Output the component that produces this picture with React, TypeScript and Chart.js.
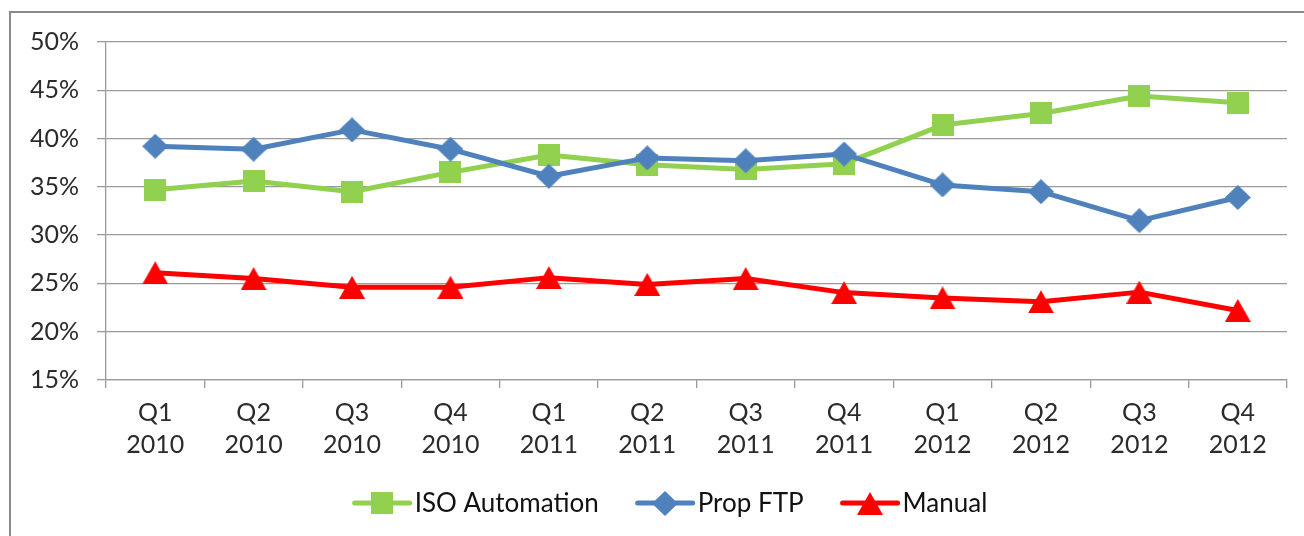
import React, { useEffect, useRef } from "react";
import { Chart, registerables } from "chart.js";

Chart.register(...registerables);

const quarters = ["Q1", "Q2", "Q3", "Q4", "Q1", "Q2", "Q3", "Q4", "Q1", "Q2", "Q3", "Q4"];
const years = ["2010", "2010", "2010", "2010", "2011", "2011", "2011", "2011", "2012", "2012", "2012", "2012"];

const isoAutomation = [34.7, 35.6, 34.5, 36.5, 38.3, 37.3, 36.8, 37.4, 41.4, 42.6, 44.4, 43.7];
const propFtp = [39.2, 38.9, 40.9, 38.9, 36.1, 38.0, 37.7, 38.4, 35.2, 34.5, 31.5, 33.9];
const manual = [26.1, 25.5, 24.6, 24.6, 25.6, 24.9, 25.5, 24.05, 23.5, 23.1, 24.1, 22.2];

const seriesNames = ["ISO Automation", "Prop FTP", "Manual"];
const seriesColors = ["#92D050", "#4F81BD", "#FF0000"];
const seriesShapes = ["square", "diamond", "triangle"];

const yMin = 15;
const yMax = 50;
const yStep = 5;

const W = 1304;
const H = 536;
const FONT = "Lato, 'Open Sans', sans-serif";

function makeMarker(shape: string, color: string): HTMLCanvasElement {
  const c = document.createElement("canvas");
  let w = 22, h = 22;
  if (shape === "diamond") { w = 26; h = 25; }
  if (shape === "triangle") { w = 26; h = 23; }
  c.width = w;
  c.height = h;
  const g = c.getContext("2d")!;
  g.fillStyle = color;
  g.beginPath();
  if (shape === "square") {
    g.rect(0, 0, w, h);
  } else if (shape === "diamond") {
    g.moveTo(w / 2, 0);
    g.lineTo(w, h / 2);
    g.lineTo(w / 2, h);
    g.lineTo(0, h / 2);
    g.closePath();
  } else {
    g.moveTo(w / 2, 0);
    g.lineTo(w, h);
    g.lineTo(0, h);
    g.closePath();
  }
  g.fill();
  return c;
}

export default function App() {
  const ref = useRef<HTMLCanvasElement | null>(null);

  useEffect(() => {
    if (!ref.current) return;
    const markers = seriesShapes.map((s, i) => makeMarker(s, seriesColors[i]));
    const values = [isoAutomation, propFtp, manual];

    const legendPlugin = {
      id: "excelLegend",
      afterDraw(chart: any) {
        const ctx = chart.ctx as CanvasRenderingContext2D;
        ctx.save();
        ctx.font = `26px ${FONT}`;
        const sampleW = 59;
        const gap = 3;
        const spacing = 37;
        const widths = seriesNames.map((n) => sampleW + gap + ctx.measureText(n).width);
        const total = widths.reduce((a, b) => a + b, 0) + spacing * (seriesNames.length - 1);
        let x = 670 - total / 2;
        const y = 503;
        seriesNames.forEach((name, i) => {
          ctx.strokeStyle = seriesColors[i];
          ctx.lineWidth = 5;
          ctx.lineCap = "round";
          ctx.beginPath();
          ctx.moveTo(x + 2, y);
          ctx.lineTo(x + sampleW - 2, y);
          ctx.stroke();
          const m = markers[i];
          ctx.drawImage(m, Math.round(x + sampleW / 2 - m.width / 2), Math.round(y - m.height / 2));
          ctx.fillStyle = "#111";
          ctx.textBaseline = "middle";
          ctx.textAlign = "left";
          ctx.fillText(name, x + sampleW + gap, y + 1);
          x += widths[i] + spacing;
        });
        ctx.restore();
      },
    };

    const chart = new Chart(ref.current, {
      type: "line",
      data: {
        labels: quarters.map((q, i) => [q, years[i]]),
        datasets: seriesNames.map((name, i) => ({
          label: name,
          data: values[i],
          borderColor: seriesColors[i],
          backgroundColor: seriesColors[i],
          borderWidth: 5,
          borderJoinStyle: "round" as const,
          borderCapStyle: "round" as const,
          tension: 0,
          pointStyle: markers[i] as any,
          pointRadius: 12,
          order: seriesNames.length - i,
        })),
      },
      options: {
        responsive: false,
        animation: false,
        devicePixelRatio: 1,
        events: [],
        layout: { padding: { top: 42, right: 17, left: 0, bottom: 0 } },
        plugins: {
          legend: { display: false },
          tooltip: { enabled: false },
        },
        scales: {
          x: {
            type: "category",
            offset: true,
            grid: {
              offset: true,
              drawOnChartArea: false,
              drawTicks: true,
              tickLength: 8,
              color: "#9a9a9a",
              lineWidth: 1.3,
            },
            border: { display: true, color: "#9a9a9a", width: 1.3 },
            ticks: {
              padding: 9,
              color: "#2b2b2b",
              font: { family: FONT, size: 25, lineHeight: 1.28 },
              maxRotation: 0,
              autoSkip: false,
            },
            afterFit: (s: any) => {
              s.height = H - 380;
              s.paddingLeft = 0;
              s.paddingRight = 0;
            },
          },
          y: {
            min: yMin,
            max: yMax,
            ticks: {
              stepSize: yStep,
              padding: 18,
              color: "#2b2b2b",
              font: { family: FONT, size: 25 },
              callback: (v: any) => `${v}%`,
            },
            grid: {
              color: "#9a9a9a",
              lineWidth: 1.3,
              tickLength: 9,
              drawTicks: true,
            },
            border: { display: true, color: "#9a9a9a", width: 1.3 },
            afterFit: (s: any) => {
              s.width = 106;
              s.paddingTop = 0;
              s.paddingBottom = 0;
            },
          },
        },
      },
      plugins: [legendPlugin],
    } as any);

    return () => chart.destroy();
  }, []);

  return (
    <>
      <div
        style={{
          position: "fixed",
          left: 9,
          top: 11,
          width: W - 9,
          height: H - 11,
          boxSizing: "border-box",
          borderLeft: "2px solid #8a8a8a",
          borderTop: "2px solid #8a8a8a",
        }}
      />
      <canvas
        ref={ref}
        width={W}
        height={H}
        style={{ position: "fixed", left: 0, top: 0, width: W, height: H, display: "block" }}
      />
    </>
  );
}
